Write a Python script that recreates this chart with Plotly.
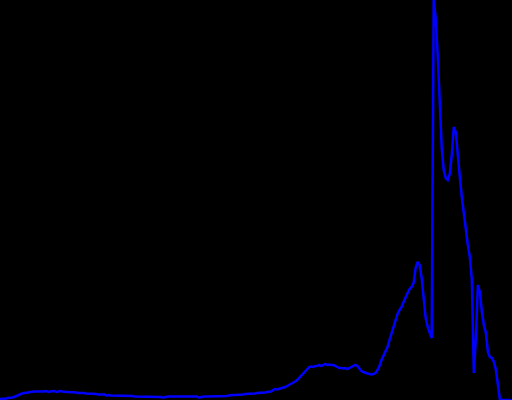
import plotly.graph_objects as go

# Histogram bins (0..255) and their heights (counts, relative units)
bins = list(range(256))
counts = [
    1, 1, 1.5, 1.5, 2, 2, 2.5, 3, 4, 4.5,
    5.5, 6.5, 7, 7, 7.5, 8, 8.5, 8.5, 8.5, 8.5,
    8.5, 8, 8.5, 9, 8, 8.5, 8.5, 9, 8, 8.5,
    9, 8.5, 8, 8, 8, 8, 7.5, 8, 7.5, 7,
    7, 7.5, 7, 6.5, 6.5, 6.5, 6, 6, 6, 5.5,
    5.5, 5, 5.5, 4.5, 5, 4.5, 4.5, 4, 4.5, 4,
    4, 4, 4.5, 4, 4, 4, 4, 3.5, 3.5, 3.5,
    3.5, 3.5, 3.5, 3.5, 3.5, 3.5, 3.5, 3.5, 3.5, 3,
    3, 2.5, 3, 3.5, 3.5, 3.5, 3.5, 3, 3.5, 3.5,
    3.5, 3.5, 3.5, 3.5, 3.5, 3.5, 3.5, 3.5, 3.5, 2.5,
    3, 3.5, 3.5, 3.5, 3.5, 3.5, 3.5, 4, 4, 4,
    4, 4, 4, 4, 4.5, 5, 5, 5, 5, 5,
    5, 5.5, 6, 6, 6, 6, 6.5, 6.5, 7, 7,
    7, 7, 7.5, 8, 8, 8.5, 10, 11, 10.5, 11,
    12, 12.5, 13, 14, 15, 16, 17, 18.5, 20, 22,
    24, 26, 28, 31, 33, 33.5, 33, 34, 34, 35,
    34, 35, 36, 35, 35.5, 35, 35, 34, 33, 32,
    32, 31.5, 32, 31, 32, 33, 34, 35, 34, 31,
    29, 28, 27, 26.5, 26, 25.5, 26, 27, 30, 34,
    40, 44, 48, 53, 60, 67, 74, 80, 86, 90,
    93, 98, 103, 107, 111, 113, 117, 132, 138, 135,
    122, 105, 82, 73, 67, 62, 400, 382, 345, 300,
    252, 230, 222, 220, 226, 245, 273, 268, 242, 223,
    203, 185, 172, 155, 143, 120, 27, 62, 115, 108,
    88, 75, 67, 48, 43, 42, 38, 30, 15, 0,
    0, 0, 0, 0, 0, 0,
]

fig = go.Figure()
fig.add_trace(go.Scatter(
    x=bins, y=counts, mode="lines",
    line=dict(color="#0000ff", width=2.5),
    hoverinfo="skip", showlegend=False,
))
fig.update_layout(
    width=512, height=400, autosize=False,
    margin=dict(l=0, r=0, t=0, b=0, pad=0),
    paper_bgcolor="#000000", plot_bgcolor="#000000",
    xaxis=dict(visible=False, range=[0, 255], fixedrange=True),
    yaxis=dict(visible=False, range=[0, 400], fixedrange=True),
)
fig.write_html("out.html", config={"displayModeBar": False})
